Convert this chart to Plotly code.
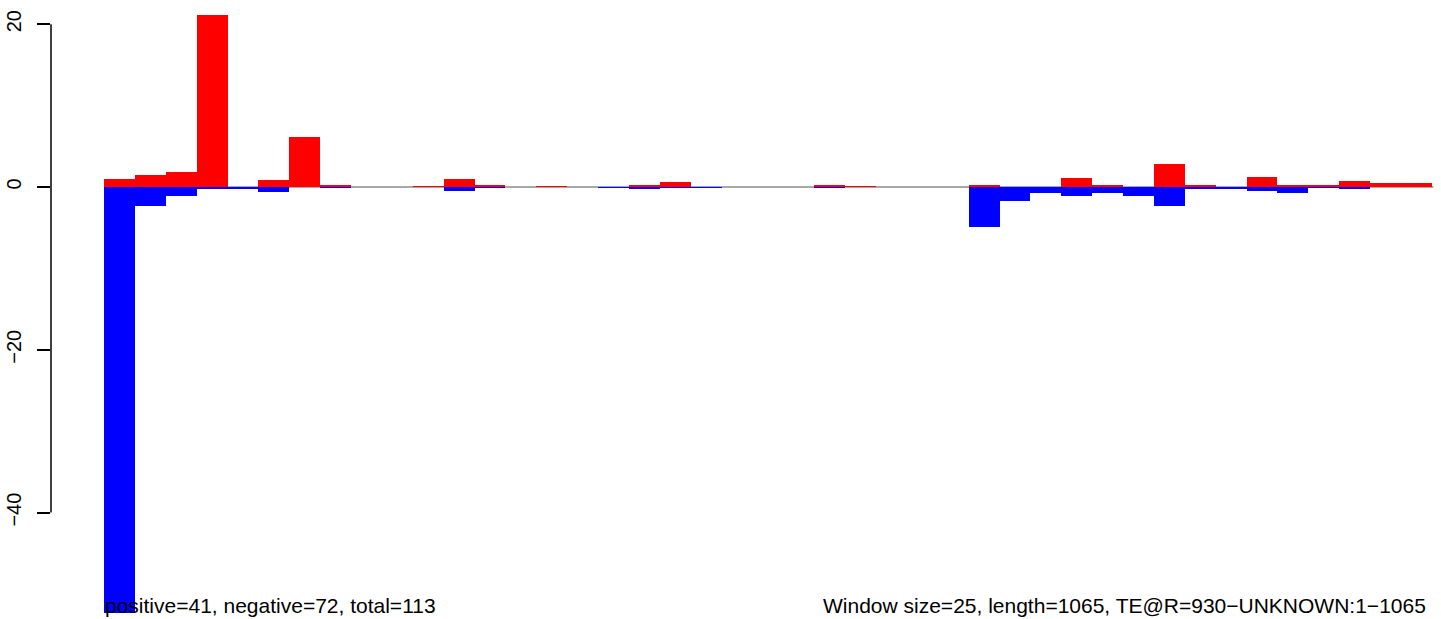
import plotly.graph_objects as go

# window index (43 windows of 25 bp over 1065 bp)
windows = list(range(43))

positive = [1.0, 1.5, 1.8, 21.1, 0, 0.9, 6.1, 0.3, 0, 0,
            0.1, 1.0, 0.15, 0, 0.1, 0, 0, 0.15, 0.6, 0,
            0, 0, 0, 0.3, 0.12, 0, 0, 0, 0.15, 0,
            0, 1.1, 0.25, 0, 2.8, 0.25, 0, 1.2, 0.15, 0.15,
            0.75, 0.5, 0.5]

negative = [-52.3, -2.33, -1.1, -0.2, -0.15, -0.6, 0, -0.1, 0, 0,
            0, -0.5, -0.12, 0, 0, 0, -0.1, -0.3, -0.1, -0.1,
            0, 0, 0, -0.1, 0, 0, 0, 0, -4.9, -1.72,
            -0.74, -1.1, -0.74, -1.1, -2.33, -0.25, -0.15, -0.5, -0.74, -0.1,
            -0.25, 0, 0]

ytick_vals = [-40, -20, 0, 20]
ytick_text = ["\u221240", "\u221220", "0", "20"]

left_label = "positive=41, negative=72, total=113"
right_label = "Window size=25, length=1065, TE@R=930\u2212UNKNOWN:1\u22121065"

# page geometry (body margin removed by post_script)
W, H = 1441, 619
AXIS_PX = 51          # x of y axis
BAR0_PX = 104         # x of first bar's left edge
px_per_bar = 30.88
x0 = -0.5 - (BAR0_PX - AXIS_PX) / px_per_bar
x1 = -0.5 + (W - BAR0_PX) / px_per_bar
zero_px = 187.0       # y of zero
px_per_unit = 8.14
y_top = zero_px / px_per_unit
y_bot = -(H - zero_px) / px_per_unit

fig = go.Figure()
fig.add_trace(go.Bar(x=windows, y=positive, base=0, width=1,
                     marker=dict(color="#ff0000", line=dict(width=0)),
                     hoverinfo="y"))
fig.add_trace(go.Bar(x=windows, y=negative, base=0, width=1,
                     marker=dict(color="#0000ff", line=dict(width=0)),
                     hoverinfo="y"))

# gray baseline under bars
fig.add_shape(type="line", xref="x", yref="y", x0=-0.5, x1=42.55, y0=0, y1=0,
              line=dict(color="#a8a8a8", width=2), layer="below")
# R-style y axis line spanning tick range
fig.add_shape(type="line", xref="paper", yref="y", x0=0, x1=0,
              y0=min(ytick_vals), y1=max(ytick_vals),
              line=dict(color="black", width=1.5), layer="above")

font_family = "Liberation Sans, Arial, sans-serif"
fig.add_annotation(text=left_label, xref="x", yref="paper", x=-0.5, y=0,
                   xanchor="left", yanchor="bottom", showarrow=False,
                   font=dict(family=font_family, size=21, color="black"),
                   borderpad=0, yshift=1)
fig.add_annotation(text=right_label, xref="x", yref="paper", x=42.35, y=0,
                   xanchor="right", yanchor="bottom", showarrow=False,
                   font=dict(family=font_family, size=21, color="black"),
                   borderpad=0, yshift=1)

fig.update_layout(
    width=W, height=H,
    margin=dict(l=AXIS_PX, r=0, t=0, b=0),
    paper_bgcolor="white", plot_bgcolor="white",
    barmode="overlay", bargap=0,
    showlegend=False,
    font=dict(family=font_family, color="black"),
    xaxis=dict(range=[x0, x1], visible=False, fixedrange=True),
    yaxis=dict(range=[y_bot, y_top], tickvals=ytick_vals, ticktext=ytick_text,
               tickangle=-90, ticks="outside", ticklen=13, tickwidth=1.5,
               tickcolor="black", showline=False, showgrid=False,
               zeroline=False, automargin=False, ticklabelstandoff=8,
               tickfont=dict(family=font_family, size=20, color="black")),
)

fig.write_html("out.html",
               config={"displayModeBar": False},
               post_script="document.body.style.margin='0';"
                           "document.body.style.overflow='hidden';")
